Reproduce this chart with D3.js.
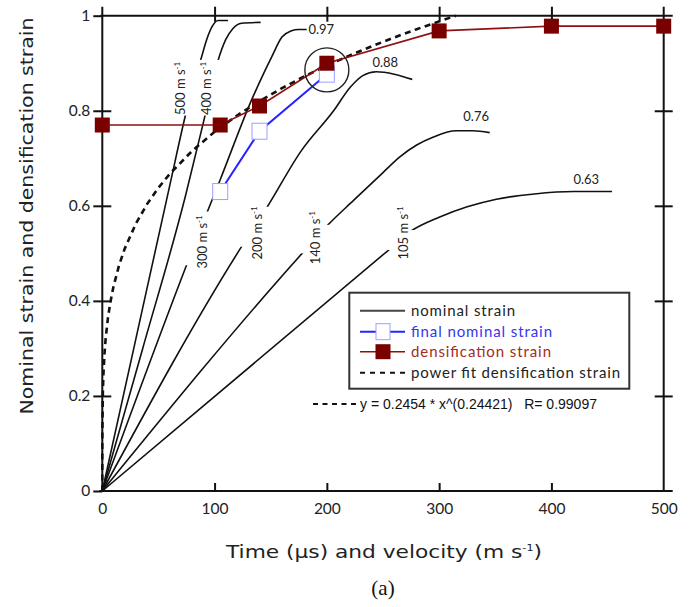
<!DOCTYPE html>
<html>
<head>
<meta charset="utf-8">
<script src="https://cdn.jsdelivr.net/npm/d3@7"></script>
<style>
  body { margin: 0; background: #fff; }
  svg { display: block; }
</style>
</head>
<body>
<svg id="chart" width="695" height="607"></svg>
<script>
// ---- data -------------------------------------------------------------
const xTicks = [0, 100, 200, 300, 400, 500];
const yTicks = [0, 0.2, 0.4, 0.6, 0.8, 1];
const yTickLabels = ["0", "0.2", "0.4", "0.6", "0.8", "1"];

// nominal strain vs time (µs) for each impact velocity
const nominal500 = [[0,0],[30,0.321],[60,0.642],[75,0.80],[82,0.865],[88,0.91],[93,0.95],[98,0.978],[103,0.99],[112,0.99]];
const nominal400 = [[0,0],[36,0.30],[74,0.62],[90,0.775],[103,0.905],[110,0.95],[116,0.972],[124,0.984],[141,0.986]];
const nominal300 = [[0,0],[75,0.475],[94,0.59],[105,0.655],[133,0.823],[145,0.885],[151,0.914],[160,0.955],[168,0.968],[175,0.971],[182,0.971]];
const nominal200 = [[0,0],[124,0.514],[147,0.598],[177,0.715],[206,0.80],[221,0.85],[232,0.874],[244,0.882],[260,0.877],[276,0.866]];
const nominal140 = [[0,0],[178,0.50],[201,0.56],[224,0.612],[250,0.67],[265,0.703],[280,0.728],[295,0.745],[315,0.758],[330,0.758],[345,0.754]];
const nominal105 = [[0,0],[255,0.507],[275,0.547],[300,0.576],[325,0.598],[351,0.614],[385,0.625],[420,0.63],[454,0.63]];

const velocityNames = ["500", "400", "300", "200", "140", "105"];
const peakLabels = ["0.97", "0.88", "0.76", "0.63"];

// densification strain vs impact velocity
const densVelocity = [0, 105, 140, 200, 300, 400, 500];
const densStrain = [0.77, 0.77, 0.81, 0.90, 0.968, 0.978, 0.978];

// final nominal strain vs impact velocity
const finalVelocity = [105, 140, 200];
const finalStrain = [0.63, 0.757, 0.877];

// tabulated power fit y = 0.2454 x^0.24421
const fitX = [0, 0.01, 0.05, 0.5, 1, 2, 3, 5, 7, 10, 15, 20, 30, 40, 50, 60, 80, 100, 120, 140, 160, 180, 200, 220, 240, 260, 280, 300, 315];
const fitY = [0, 0.0797, 0.1181, 0.2072, 0.2454, 0.2906, 0.3209, 0.3636, 0.3947, 0.4306, 0.4754, 0.5100, 0.5631, 0.6041, 0.6379, 0.6670, 0.7155, 0.7556, 0.7900, 0.8203, 0.8475, 0.8723, 0.8950, 0.9161, 0.9357, 0.9542, 0.9716, 0.9881, 1.0];

// ---- layout -------------------------------------------------------------
const svg = d3.select("#chart");
const FONT = "Lato, 'Noto Sans', sans-serif";
const TITLE_FONT = "'DejaVu Sans', 'Noto Sans', sans-serif";
const x = d3.scaleLinear().domain([0, 500]).range([102.3, 663.7]);
const y = d3.scaleLinear().domain([0, 1]).range([491, 15.7]);

const AXIS = "#111";
const RED = "#7a0000";
const REDLINE = "#8e1010";
const BLUE = "#2424ff";

// frame lines
const frame = svg.append("g").attr("stroke", AXIS).attr("stroke-width", 2);
frame.append("line").attr("x1", x(0) - 3).attr("x2", x(500) + 9).attr("y1", y(0)).attr("y2", y(0));
frame.append("line").attr("x1", x(0) - 2).attr("x2", x(500) + 9).attr("y1", y(1)).attr("y2", y(1));
frame.append("line").attr("x1", x(0)).attr("x2", x(0)).attr("y1", y(1) - 9).attr("y2", y(0));
frame.append("line").attr("x1", x(500)).attr("x2", x(500)).attr("y1", y(1) - 9).attr("y2", y(0));

// bottom axis: ticks pointing up
const gx = svg.append("g").attr("transform", `translate(0,${y(0)})`)
  .call(d3.axisBottom(x).tickValues(xTicks).tickSizeInner(-8).tickSizeOuter(0).tickPadding(12));
gx.select(".domain").remove();
gx.selectAll(".tick line").attr("stroke", AXIS).attr("stroke-width", 2)
  .filter(d => d === 0 || d === 500).remove();
gx.selectAll(".tick text").attr("font-family", FONT).attr("font-size", 15.5).attr("fill", "#222");

// left axis: ticks crossing the line
const gy = svg.append("g").attr("transform", `translate(${x(0)},0)`)
  .call(d3.axisLeft(y).tickValues(yTicks).tickFormat((d, i) => yTickLabels[i]).tickSizeInner(9).tickSizeOuter(0).tickPadding(3));
gy.select(".domain").remove();
gy.selectAll(".tick line").attr("stroke", AXIS).attr("stroke-width", 2)
  .attr("x1", d => (d === 0 || d === 1) ? 0 : 9);
gy.selectAll(".tick text").attr("font-family", FONT).attr("font-size", 15.5).attr("fill", "#222");

// right axis: crossing ticks, no labels
const gr = svg.append("g").attr("transform", `translate(${x(500)},0)`)
  .call(d3.axisRight(y).tickValues(yTicks.slice(1, 5)).tickFormat("").tickSizeInner(9).tickSizeOuter(0));
gr.select(".domain").remove();
gr.selectAll(".tick line").attr("stroke", AXIS).attr("stroke-width", 2).attr("x1", -9);

// top axis: crossing ticks, no labels
const gt = svg.append("g").attr("transform", `translate(0,${y(1)})`)
  .call(d3.axisTop(x).tickValues(xTicks.slice(1, 5)).tickFormat("").tickSizeInner(9).tickSizeOuter(0));
gt.select(".domain").remove();
gt.selectAll(".tick line").attr("stroke", AXIS).attr("stroke-width", 2).attr("y1", 6);

// ---- nominal strain curves -------------------------------------------
const curves = [nominal500, nominal400, nominal300, nominal200, nominal140, nominal105];
// strain bands where each curve is interrupted for its velocity label
const gapBands = [[0.79, 0.907], [0.79, 0.907], [0.475, 0.588], [0.514, 0.598], [0.50, 0.56], [0.507, 0.549]];
// centres of the rotated velocity labels (velocity, strain)
const velLabelPos = [[70, 0.847], [93, 0.847], [89, 0.524], [138, 0.543], [190, 0.533], [268, 0.543]];

const defs = svg.append("defs");
const line = d3.line().x(d => x(d[0])).y(d => y(d[1])).curve(d3.curveMonotoneX);

curves.forEach((c, i) => {
  const m = defs.append("mask").attr("id", "gap" + i).attr("maskUnits", "userSpaceOnUse")
    .attr("x", 0).attr("y", 0).attr("width", 695).attr("height", 607);
  m.append("rect").attr("width", 695).attr("height", 607).attr("fill", "#fff");
  m.append("rect").attr("x", 0).attr("width", 695)
    .attr("y", y(gapBands[i][1])).attr("height", y(gapBands[i][0]) - y(gapBands[i][1])).attr("fill", "#000");
  svg.append("path").datum(c).attr("d", line)
    .attr("fill", "none").attr("stroke", "#111").attr("stroke-width", 1.6)
    .attr("mask", `url(#gap${i})`);
});

// velocity labels, written bottom-to-top
velocityNames.forEach((v, i) => {
  const [vx, vy] = velLabelPos[i];
  const t = svg.append("text")
    .attr("transform", `translate(${x(vx)},${y(vy)}) rotate(-90)`)
    .attr("text-anchor", "middle").attr("dy", "0.35em")
    .attr("font-family", FONT).attr("font-size", 13).attr("fill", "#222");
  t.append("tspan").text(v + " m s");
  t.append("tspan").attr("dy", -5).attr("font-size", 8).text("-1");
});

// peak values at the end of the slower curves
const peakPos = [[195, 0.971], [252, 0.902], [333, 0.787], [431, 0.655]];
peakLabels.forEach((p, i) => {
  svg.append("text").attr("x", x(peakPos[i][0])).attr("y", y(peakPos[i][1]))
    .attr("text-anchor", "middle").attr("dy", "0.35em")
    .attr("font-family", FONT).attr("font-size", 13).attr("fill", "#222").text(p);
});

// ---- power fit (dashed) -------------------------------------------------
const fitPts = fitX.map((v, i) => [v, fitY[i]]);
svg.append("path").datum(fitPts)
  .attr("d", d3.line().x(d => x(d[0])).y(d => y(d[1])))
  .attr("fill", "none").attr("stroke", "#111").attr("stroke-width", 2.6)
  .attr("stroke-dasharray", "6,4.5");

// ---- final nominal strain (blue, open squares) --------------------------
const finalPts = finalVelocity.map((v, i) => [v, finalStrain[i]]);
svg.append("path").datum(finalPts)
  .attr("d", d3.line().x(d => x(d[0])).y(d => y(d[1])))
  .attr("fill", "none").attr("stroke", BLUE).attr("stroke-width", 2);
svg.selectAll(".finalMark").data(finalPts).join("rect").attr("class", "finalMark")
  .attr("x", d => x(d[0]) - 7.5).attr("y", d => y(d[1]) - 8).attr("width", 15).attr("height", 16)
  .attr("fill", "#fff").attr("stroke", "#9aa0ff").attr("stroke-width", 1);

// ---- densification strain (dark red, filled squares) --------------------
const densPts = densVelocity.map((v, i) => [v, densStrain[i]]);
svg.append("path").datum(densPts)
  .attr("d", d3.line().x(d => x(d[0])).y(d => y(d[1])))
  .attr("fill", "none").attr("stroke", REDLINE).attr("stroke-width", 1.6);
svg.selectAll(".densMark").data(densPts).join("rect").attr("class", "densMark")
  .attr("x", d => x(d[0]) - 7.5).attr("y", d => y(d[1]) - 7.5).attr("width", 15).attr("height", 15)
  .attr("fill", RED);

// highlight ring around the 200 m/s point
svg.append("circle").attr("cx", x(200)).attr("cy", y(0.886)).attr("r", 22)
  .attr("fill", "none").attr("stroke", "#222").attr("stroke-width", 1.4);

// ---- legend -------------------------------------------------------------
const lg = svg.append("g");
lg.append("rect").attr("x", 349.3).attr("y", 292.7).attr("width", 280).attr("height", 96)
  .attr("fill", "#fff").attr("stroke", "#333").attr("stroke-width", 2);
const rows = [310.7, 331.7, 351.7, 372.7];
const legendText = ["nominal strain", "final nominal strain", "densification strain", "power fit densification strain"];
const legendColor = ["#222", "#3535f0", "#a52a22", "#222"];
const legendWidth = [104, 141, 140, 209];
lg.append("line").attr("x1", 360).attr("x2", 405).attr("y1", rows[0]).attr("y2", rows[0])
  .attr("stroke", "#444").attr("stroke-width", 2);
lg.append("line").attr("x1", 360).attr("x2", 405).attr("y1", rows[1]).attr("y2", rows[1])
  .attr("stroke", BLUE).attr("stroke-width", 2);
lg.append("rect").attr("x", 376).attr("y", rows[1] - 8).attr("width", 14).attr("height", 16)
  .attr("fill", "#fff").attr("stroke", "#9aa0ff").attr("stroke-width", 1);
lg.append("line").attr("x1", 360).attr("x2", 405).attr("y1", rows[2]).attr("y2", rows[2])
  .attr("stroke", REDLINE).attr("stroke-width", 1.6);
lg.append("rect").attr("x", 375.5).attr("y", rows[2] - 7.5).attr("width", 15).attr("height", 15).attr("fill", RED);
lg.append("line").attr("x1", 360).attr("x2", 407).attr("y1", rows[3]).attr("y2", rows[3])
  .attr("stroke", "#111").attr("stroke-width", 2).attr("stroke-dasharray", "5,5");
legendText.forEach((t, i) => {
  lg.append("text").attr("x", 411).attr("y", rows[i]).attr("dy", "0.35em")
    .attr("font-family", FONT).attr("font-size", 15).attr("fill", legendColor[i])
    .attr("textLength", legendWidth[i]).attr("lengthAdjust", "spacing").text(t);
});

// fit equation below the legend
svg.append("line").attr("x1", 313).attr("x2", 357).attr("y1", 404).attr("y2", 404)
  .attr("stroke", "#111").attr("stroke-width", 2).attr("stroke-dasharray", "5,4.5");
svg.append("text").attr("x", 360).attr("y", 404).attr("dy", "0.36em")
  .attr("font-family", "'Liberation Sans', Arial, sans-serif").attr("font-size", 14).attr("fill", "#111")
  .attr("xml:space", "preserve").style("white-space", "pre")
  .text("y = 0.2454 * x^(0.24421)   R= 0.99097");

// ---- axis titles --------------------------------------------------------
svg.append("text").attr("transform", "translate(27,216) rotate(-90)")
  .attr("text-anchor", "middle").attr("dy", "0.35em")
  .attr("font-family", TITLE_FONT).attr("font-size", 17.5).attr("fill", "#222")
  .attr("textLength", 397).attr("lengthAdjust", "spacingAndGlyphs")
  .text("Nominal strain and densification strain");

const xt = svg.append("text").attr("x", 226).attr("y", 552).attr("dy", "0.35em")
  .attr("font-family", TITLE_FONT).attr("font-size", 17.5).attr("fill", "#222")
  .attr("textLength", 316).attr("lengthAdjust", "spacingAndGlyphs");
xt.append("tspan").text("Time (\u00b5s) and velocity (m s");
xt.append("tspan").attr("dy", -7).attr("font-size", 9).text("-1");
xt.append("tspan").attr("dy", 7).text(")");

svg.append("text").attr("x", 383).attr("y", 588).attr("text-anchor", "middle").attr("dy", "0.35em")
  .attr("font-family", "'Liberation Serif', 'Times New Roman', serif").attr("font-size", 21).attr("fill", "#111")
  .text("(a)");
</script>
</body>
</html>
